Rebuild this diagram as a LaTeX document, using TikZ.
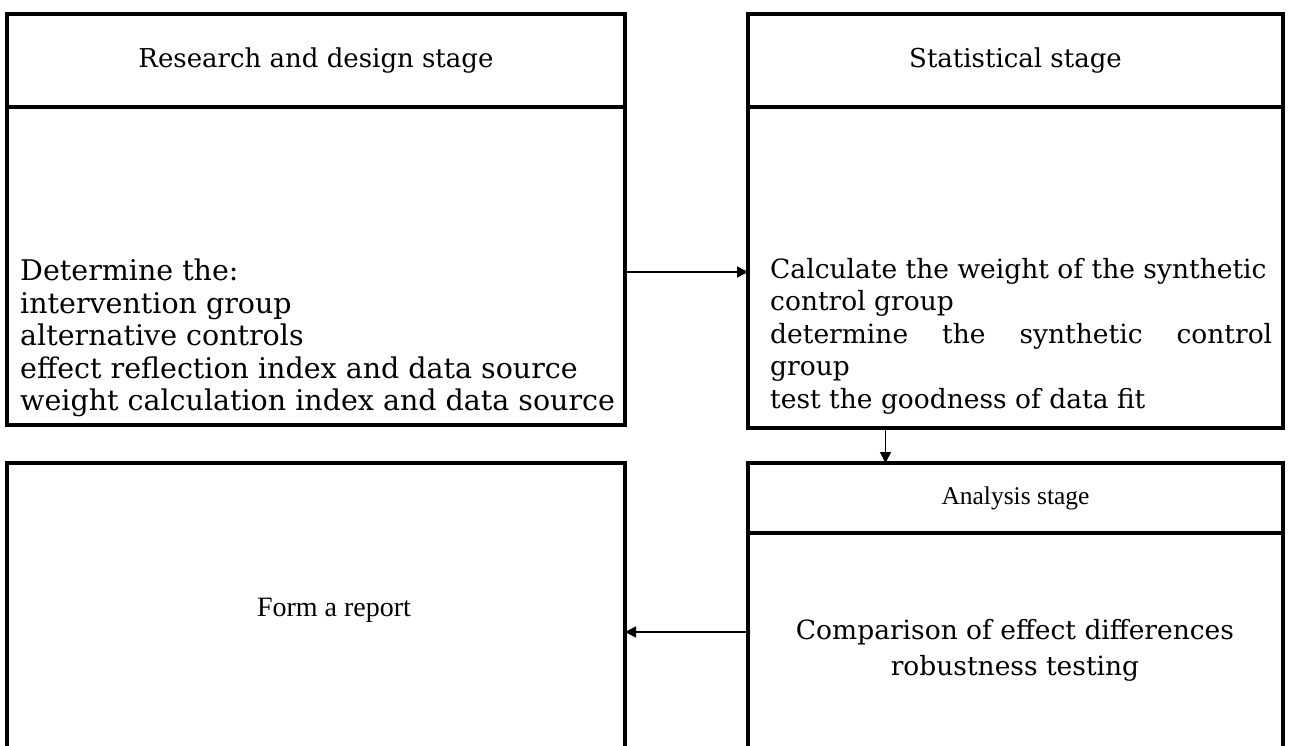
\documentclass[tikz,border=0pt]{standalone}
\usepackage{fontspec}
\setmainfont{DejaVu Serif}
\newfontfamily\timesfont{Liberation Serif}
\usetikzlibrary{positioning,arrows.meta}
\tikzstyle{kopf}=[rectangle,draw,line width=4pt,outer sep=0pt,inner sep=0pt,minimum height=93pt,font=\fontsize{26}{30}\selectfont]
\tikzstyle{rumpf}=[rectangle,draw,line width=4pt,outer sep=0pt,inner sep=0pt]
\tikzstyle{inhalt}=[align=left,inner sep=0pt,font=\fontsize{28.5}{32.5}\selectfont]
\tikzstyle{pfeil}=[line width=1.5pt,-{Triangle[length=11pt,width=11pt]}]

\begin{document}
\begin{tikzpicture}[x=1pt,y=-1pt]
\useasboundingbox (0,0) rectangle (1290,746);
\clip (0,0) rectangle (1290,746);

\node[kopf,minimum width=618pt] (rdhead) at (316,60.5) {Research and design stage};
\node[rumpf,minimum width=618pt,minimum height=318pt] (rdbody) [below=0pt of rdhead] {};
\node[inhalt,anchor=west] (rdtext) at (20,338) {Determine the:\\intervention group\\alternative controls\\effect reflection index and data source\\weight calculation index and data source};

\node[kopf,minimum width=535pt] (sthead) at (1015.5,60.5) {Statistical stage};
\node[rumpf,minimum width=535pt,minimum height=321pt] (stbody) [below=0pt of sthead] {};
\node[inhalt,anchor=west,font=\fontsize{26.5}{32.5}\selectfont] (sttext) at (770,336) {Calculate the weight of the synthetic\\control group\\\makebox[502pt][s]{determine the synthetic control}\\group\\test the goodness of data fit};

\node[rumpf,minimum width=618pt,minimum height=340pt,anchor=north] (rpbox) at (316,463) {};
\node[font=\timesfont\fontsize{28}{32}\selectfont] (report) at (334,610) {Form a report};

\node[kopf,minimum width=535pt,minimum height=70pt,anchor=north,font=\timesfont\fontsize{25.5}{30}\selectfont] (anhead) at (1015.5,463) {Analysis stage};
\node[rumpf,minimum width=535pt,minimum height=280pt] (anbody) [below=0pt of anhead] {};
\node[inhalt,align=center,font=\fontsize{26.5}{36}\selectfont] (antext) at (1015,650) {Comparison of effect differences\\robustness testing};

\draw[pfeil] ([yshift=-6pt]rdbody.east) -- ([yshift=-6pt]rdbody.east -| stbody.west);
\draw[pfeil] ([xshift=-130pt]stbody.south) -- ([xshift=-130pt]anhead.north);
\draw[pfeil] ([yshift=41pt]anbody.west) -- ([yshift=41pt]anbody.west -| rpbox.east);

\end{tikzpicture}
\end{document}
